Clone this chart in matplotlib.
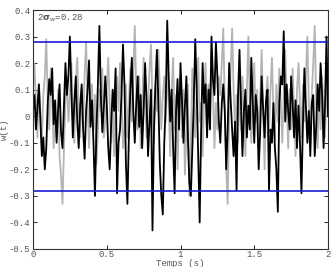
import numpy as np
import matplotlib
matplotlib.use("Agg")
import matplotlib.pyplot as plt

dt = 0.01
black_vals = [
    0.02, 0.08, -0.05, 0.03, 0.12, -0.02, -0.15, -0.08, -0.20, -0.12,
    0.05, 0.14, 0.08, 0.18, -0.03, 0.06, -0.10, 0.02, 0.12, -0.06,
    -0.12, 0.04, 0.20, 0.08, 0.15, 0.30, 0.10, -0.08, 0.05, 0.15,
    -0.02, -0.12, 0.04, 0.12, -0.05, -0.16, 0.02, 0.10, 0.21, -0.04,
    0.06, -0.10, -0.30, -0.05, 0.12, 0.34, 0.08, -0.06, 0.03, 0.15,
    0.05, -0.12, -0.20, -0.03, 0.10, 0.02, 0.18, -0.29, -0.10, -0.05,
    0.08, 0.27, 0.12, -0.18, -0.33, -0.08, 0.10, 0.22, 0.02, -0.10,
    0.05, 0.15, -0.04, 0.08, -0.12, 0.02, 0.20, 0.06, -0.15, -0.02,
    0.10, -0.43, -0.05, 0.12, 0.25, 0.05, -0.18, -0.30, -0.37, -0.10,
    0.05, 0.36, 0.15, -0.02, 0.10, -0.12, -0.29, 0.02, 0.14, -0.05,
    0.20, 0.06, -0.10, 0.04, 0.15, -0.08, -0.25, -0.30, -0.12, 0.05,
    0.29, 0.10, -0.15, -0.40, -0.05, 0.20, 0.05, 0.12, -0.08, 0.10,
    -0.05, 0.30, 0.14, 0.08, 0.28, 0.15, -0.02, -0.10, 0.05, 0.12,
    0.02, -0.20, -0.05, 0.20, 0.06, -0.05, -0.15, -0.02, -0.28, 0.08,
    0.25, 0.05, -0.15, 0.02, 0.10, -0.08, 0.04, -0.05, 0.22, 0.05,
    -0.10, 0.08, 0.02, -0.20, -0.06, 0.15, 0.03, -0.08, 0.06, 0.10,
    -0.28, -0.05, -0.10, 0.05, -0.12, -0.20, -0.36, 0.05, 0.15, 0.12,
    0.32, -0.02, 0.12, 0.02, -0.05, 0.15, 0.05, -0.08, 0.06, -0.12,
    0.04, -0.10, -0.29, -0.03, 0.18, 0.04, -0.10, 0.02, -0.15, 0.05,
    0.08, -0.15, -0.04, 0.12, 0.02, 0.20, 0.08, -0.12, 0.05, 0.30,
    0.00]
gray_vals = [
    0.10, 0.20, 0.05, -0.08, 0.12, 0.02, -0.10, 0.08, 0.15, 0.29,
    0.05, -0.05, 0.18, 0.06, -0.12, 0.02, -0.08, 0.10, -0.15, -0.22,
    -0.33, -0.12, 0.05, 0.15, -0.02, 0.08, 0.20, 0.05, -0.10, 0.12,
    0.22, 0.02, -0.08, 0.10, -0.03, 0.16, 0.28, 0.05, -0.12, 0.04,
    0.12, -0.05, 0.08, -0.18, -0.06, 0.10, 0.02, 0.18, -0.08, -0.02,
    0.10, 0.22, 0.05, -0.10, 0.04, -0.15, 0.06, 0.15, 0.02, 0.20,
    0.08, -0.12, -0.05, 0.12, -0.08, 0.05, 0.18, -0.02, 0.15, 0.34,
    0.10, -0.05, 0.15, -0.12, 0.02, 0.22, 0.08, -0.08, 0.05, 0.18,
    0.27, 0.05, -0.10, 0.12, 0.02, 0.25, 0.10, -0.05, 0.08, 0.15,
    -0.02, 0.20, 0.05, -0.15, 0.10, 0.22, -0.05, 0.08, -0.20, 0.02,
    0.15, -0.08, 0.10, -0.22, -0.05, 0.12, -0.30, -0.10, 0.18, 0.05,
    -0.08, 0.10, 0.22, -0.02, 0.05, -0.15, 0.08, 0.20, -0.05, 0.12,
    0.02, 0.25, 0.10, -0.12, 0.05, -0.05, 0.15, 0.08, 0.20, 0.33,
    0.05, -0.20, -0.33, 0.02, 0.18, 0.33, 0.10, -0.05, 0.08, -0.10,
    0.12, -0.05, 0.15, 0.02, -0.15, 0.10, 0.30, 0.05, -0.10, 0.08,
    0.20, -0.02, 0.10, -0.12, 0.05, 0.25, 0.02, -0.20, 0.08, 0.15,
    -0.05, 0.10, 0.22, 0.02, -0.08, 0.12, -0.02, 0.18, 0.05, -0.10,
    0.08, 0.25, 0.05, -0.12, 0.10, -0.05, 0.18, 0.02, -0.15, 0.10,
    0.20, 0.05, -0.08, 0.12, -0.02, 0.15, 0.30, 0.05, -0.10, 0.08,
    0.20, 0.34, 0.05, -0.12, 0.10, -0.05, 0.15, 0.02, -0.08, 0.12,
    0.05]
threshold = 0.28
xticks = [0, 0.5, 1, 1.5, 2]
xticklabels = ["0", "0.5", "1", "1.5", "2"]
yticks = [0.4, 0.3, 0.2, 0.1, 0, -0.1, -0.2, -0.3, -0.4, -0.5]
yticklabels = ["0.4", "0.3", "0.2", "0.1", "0", "-0.1", "-0.2", "-0.3", "-0.4", "-0.5"]

t_b = np.arange(len(black_vals)) * dt
t_g = np.arange(len(gray_vals)) * dt

mono = "Liberation Mono"
fig = plt.figure(figsize=(3.31, 2.67), dpi=100)
ax = fig.add_axes([33/331, 1-249/267, 295/331, 239/267])
ax.plot(t_g, gray_vals, color="#b4b4b4", lw=1.3)
ax.plot(t_b, black_vals, color="black", lw=1.3)
ax.axhline(threshold, color="#1a1adc", lw=1.2)
ax.axhline(-threshold, color="#1a1adc", lw=1.2)
ax.set_xlim(0, 2)
ax.set_ylim(-0.5, 0.4)
ax.set_xticks(xticks)
ax.set_xticklabels(xticklabels, fontfamily=mono, fontsize=6.5, color="#555555")
ax.set_yticks(yticks)
ax.set_yticklabels(yticklabels, fontfamily=mono, fontsize=6.5, color="#555555")
ax.tick_params(direction="in", top=True, right=True, length=3, width=0.6, pad=2)
ax.tick_params(axis="x", pad=1)
for s in ax.spines.values():
    s.set_linewidth(0.8)
    s.set_color("#333333")
ax.set_xlabel("Temps (s)", fontfamily=mono, fontsize=6.5, color="#555555")
ax.set_ylabel("w(t)", fontfamily=mono, fontsize=6.5, color="#555555")
ax.xaxis.set_label_coords(0.5, -0.042)
ax.yaxis.set_label_coords(-0.08, 0.5)
ax.text(0.03, 0.37, r"2$\mathbf{\sigma}_w$=0.28", fontfamily=mono, fontsize=6.5,
        color="#555555", va="center", ha="left")
fig.savefig("out.png", dpi=100)
